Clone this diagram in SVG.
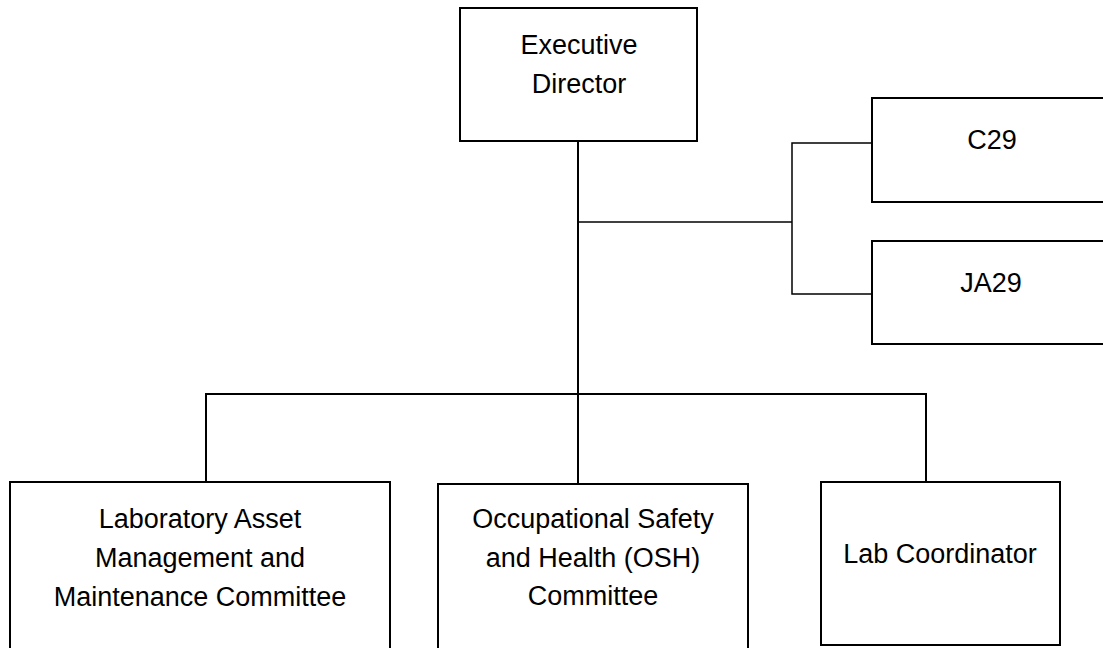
<svg xmlns="http://www.w3.org/2000/svg" width="1103" height="648" viewBox="0 0 1103 648">
<style>
.box{fill:#fff;stroke:#000;stroke-width:2}
.t{font-family:"Liberation Sans",Arial,sans-serif;font-size:27px;fill:#000;text-anchor:middle}
.c{fill:none;stroke:#000;stroke-width:2}
.thin{fill:none;stroke:#000;stroke-width:1.5}
</style>
<rect width="1103" height="648" fill="#fff"/>
<g id="connectors">
<line class="c" x1="578" y1="141" x2="578" y2="394"/>
<line class="thin" x1="578" y1="222" x2="792" y2="222"/>
<polyline class="thin" points="872,143 792,143 792,294 872,294"/>
<line class="c" x1="205" y1="394" x2="927" y2="394"/>
<line class="c" x1="206" y1="393" x2="206" y2="482"/>
<line class="c" x1="578" y1="394" x2="578" y2="484"/>
<line class="c" x1="926" y1="393" x2="926" y2="482"/>
</g>
<g id="exec">
<rect class="box" x="460" y="8" width="237" height="133"/>
<text class="t" x="579" y="54">Executive</text>
<text class="t" x="579" y="93">Director</text>
</g>
<g id="c29">
<rect class="box" x="872" y="98" width="240" height="104"/>
<text class="t" x="992" y="149">C29</text>
</g>
<g id="ja29">
<rect class="box" x="872" y="241" width="240" height="103"/>
<text class="t" x="991" y="292">JA29</text>
</g>
<g id="lab-asset">
<rect class="box" x="10" y="482" width="380" height="180"/>
<text class="t" x="200" y="528">Laboratory Asset</text>
<text class="t" x="200" y="567">Management and</text>
<text class="t" x="200" y="606">Maintenance Committee</text>
</g>
<g id="osh">
<rect class="box" x="438" y="484" width="310" height="180"/>
<text class="t" x="593" y="528">Occupational Safety</text>
<text class="t" x="593" y="567">and Health (OSH)</text>
<text class="t" x="593" y="605">Committee</text>
</g>
<g id="lab-coord">
<rect class="box" x="821" y="482" width="239" height="163"/>
<text class="t" x="940" y="563">Lab Coordinator</text>
</g>
</svg>
